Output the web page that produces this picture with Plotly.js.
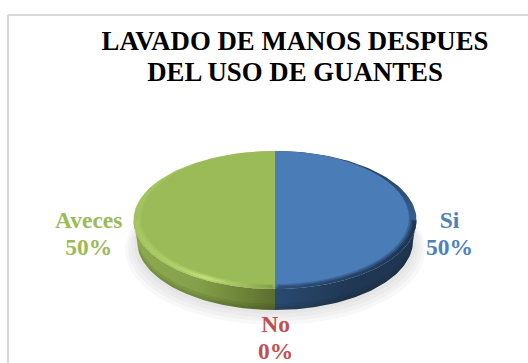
<!DOCTYPE html>
<html>
<head>
<meta charset="utf-8">
<script src="https://cdn.plot.ly/plotly-3.0.1.min.js"></script>
<style>html,body{margin:0;padding:0;background:#fff}#chart{width:528px;height:363px}</style>
</head>
<body>
<div id="chart"></div>
<script>
// Survey answers
const categories = ['Si', 'No', 'Aveces'];
const shares = [50, 0, 50];
const titleLines = ['LAVADO DE MANOS DESPUES', 'DEL USO DE GUANTES'];

// Colours per answer
const labelColors = ['#4f81bd', '#c0504d', '#9bbb59'];
const faceColors = ['#4a7db8', '#c0504d', '#9bbb59'];
const edgeColors = [
  [[0, '#4a7db8'], [0.38, '#4a7db8'], [0.5, '#35608f'], [1, '#1f3653']],
  [[0, '#c0504d'], [1, '#8c3a38']],
  [[0, '#9fbf5c'], [1, '#a3c45f']]
];
const rimStops = [
  [[0, '#2d4f7a'], [1, '#1f3653']],
  [[0, '#8c3a38'], [1, '#6e2c2a']],
  [[0, '#a6c761'], [0.35, '#b4d46c'], [0.5, '#c4e47c'], [0.8, '#9db95a'], [1, '#7e9845']]
];
const rimWeights = [[1, 1, 0.7, 0.35], [1, 1, 0.7, 0.35], [0.6, 1, 0.8, 0.4]];
const wallStops = [
  [[0, '#2a4a70'], [0.5, '#203855'], [1, '#1e3550']],
  [[0, '#8c3a38'], [1, '#6e2c2a']],
  [[0, '#8ea94f'], [0.45, '#84a04a'], [0.75, '#6f8639'], [1, '#5c6d30']]
];

// Label anchor points beside the disc
const labelAnchors = [[449, 235], [275, 339], [88, 235]];

// Disc geometry in pixels
const W = 528, H = 363;
const cx = 275, outer = {cy: 220, rx: 141.5, ry: 69};
const face = {cy: 217.5, rx: 134, ry: 66.5};
const base = {cy: 220, rx: 138, ry: 69};
const depth = 21;
const titleGap = 31, labelGap = 27;

// Outline points of an elliptical arc; angles run clockwise from 12 o'clock
function arc(e, a0, a1, dy) {
  const xs = [], ys = [], n = 90;
  for (let i = 0; i <= n; i++) {
    const a = a0 + (a1 - a0) * i / n;
    xs.push(cx + e.rx * Math.sin(a));
    ys.push(e.cy + (dy || 0) - e.ry * Math.cos(a));
  }
  return {xs, ys};
}

function mix(a, b, t) {
  const p = c => [1, 3, 5].map(i => parseInt(c.substr(i, 2), 16));
  const [x, y] = [p(a), p(b)];
  return 'rgb(' + x.map((v, i) => Math.round(v + (y[i] - v) * t)).join(',') + ')';
}

const total = shares.reduce((s, v) => s + v, 0);
const spans = [];
shares.reduce((start, v) => {
  const end = start + v / total * 2 * Math.PI;
  spans.push([start, end]);
  return end;
}, 0);

const traces = [];
const blank = {type: 'scatter', mode: 'lines', line: {width: 0}, fill: 'toself', hoverinfo: 'skip', showlegend: false};

// Soft ground shadow
[[10, 9], [7, 7], [4, 5], [1, 3]].forEach(([grow, drop]) => {
  const p = arc({cy: outer.cy, rx: base.rx + grow + 2, ry: outer.ry + grow * 0.6}, 0, 2 * Math.PI, depth + drop);
  traces.push({...blank, x: p.xs, y: p.ys, fillcolor: 'rgba(150,150,150,0.07)'});
});

// Side wall, only where a slice faces the viewer (lower half of the disc)
spans.forEach(([a0, a1], i) => {
  const lo = Math.max(a0, Math.PI / 2), hi = Math.min(a1, 3 * Math.PI / 2);
  if (hi <= lo) return;
  const top = arc(outer, lo, hi), bottom = arc(base, hi, lo, depth);
  traces.push({...blank, x: top.xs.concat(bottom.xs), y: top.ys.concat(bottom.ys),
    fillgradient: {type: 'horizontal', colorscale: wallStops[i]}});
  // darker strip along the lower edge of the wall
  [6, 3].forEach(h => {
    const up = arc(base, lo, hi, depth - h), dn = arc(base, hi, lo, depth);
    traces.push({...blank, x: up.xs.concat(dn.xs), y: up.ys.concat(dn.ys), fillcolor: 'rgba(20,30,10,0.09)'});
  });
});

// Outer edge of the top surface
spans.forEach(([a0, a1], i) => {
  if (a1 <= a0) return;
  const p = arc(outer, a0, a1);
  traces.push({...blank, x: [cx, ...p.xs, cx], y: [outer.cy, ...p.ys, outer.cy],
    fillgradient: {type: 'vertical', colorscale: edgeColors[i]}});
});

// Bevel on the front half: nested crescents fading into the face colour
[0, 0.25, 0.5, 0.75].forEach((t, k) => {
  const e = {cy: outer.cy + (face.cy - outer.cy) * t, rx: outer.rx + (face.rx - outer.rx) * t, ry: outer.ry + (face.ry - outer.ry) * t};
  spans.forEach(([a0, a1], i) => {
    const lo = Math.max(a0, Math.PI / 2), hi = Math.min(a1, 3 * Math.PI / 2);
    if (hi <= lo) return;
    const p = arc(e, lo, hi);
    traces.push({...blank, x: [...p.xs, p.xs[0]], y: [...p.ys, p.ys[0]],
      fillgradient: {type: 'horizontal', colorscale: rimStops[i].map(([pos, c]) => [pos, mix(faceColors[i], c, rimWeights[i][k])])}});
  });
});

// Flat top face, squashed into an ellipse once it has been drawn
traces.push({
  type: 'pie', labels: categories, values: shares, sort: false, direction: 'clockwise', rotation: 0,
  textinfo: 'none', hoverinfo: 'label+percent', showlegend: false,
  marker: {colors: faceColors, line: {width: 0}},
  domain: {x: [(cx - face.rx) / W, (cx + face.rx) / W], y: [1 - (face.cy + face.rx) / H, 1 - (face.cy - face.rx) / H]}
});

const serif = '"Liberation Serif", "Times New Roman", serif';

const annotations = categories.map((c, i) => ({
  xref: 'x', yref: 'y', x: labelAnchors[i][0], y: labelAnchors[i][1], showarrow: false,
  text: '<b>' + c + '<br>' + Math.round(shares[i] / total * 100) + '%</b>', align: 'center',
  font: {family: serif, size: 23.5, color: labelColors[i]}
}));

const layout = {
  width: W, height: H, margin: {l: 0, r: 0, t: 0, b: 0},
  paper_bgcolor: '#fff', plot_bgcolor: 'rgba(0,0,0,0)', showlegend: false,
  title: {text: '<b>' + titleLines.join('<br>') + '</b>', x: 295 / W, xanchor: 'center', y: 1 - 50 / H, yanchor: 'alphabetic',
    font: {family: serif, size: 26.8, color: '#000'}, pad: {t: 0}},
  xaxis: {range: [0, W], visible: false, fixedrange: true},
  yaxis: {range: [H, 0], visible: false, fixedrange: true},
  annotations,
  shapes: [
    {type: 'line', xref: 'paper', yref: 'paper', x0: 8 / W, x1: 8 / W, y0: 0, y1: 1 - 15 / H, line: {color: '#d9d9d9', width: 2}},
    {type: 'line', xref: 'paper', yref: 'paper', x0: 8 / W, x1: 1, y0: 1 - 15 / H, y1: 1 - 15 / H, line: {color: '#d9d9d9', width: 2}}
  ]
};

// Tighten the spacing between the lines of a multi-line text
function setLineGap(root, selector, gap) {
  root.querySelectorAll(selector).forEach(t => {
    t.querySelectorAll('tspan.line').forEach((line, n) => {
      if (n > 0) line.setAttribute('dy', gap + 'px');
    });
  });
}

Plotly.newPlot('chart', traces, layout, {displayModeBar: false, staticPlot: true}).then(gd => {
  const s = face.ry / face.rx;
  gd.querySelectorAll('.pielayer .trace').forEach(g => {
    g.setAttribute('transform', `translate(0,${face.cy}) scale(1,${s}) translate(0,${-face.cy})`);
  });
  setLineGap(gd, '.gtitle', titleGap);
  setLineGap(gd, '.annotation-text', labelGap);
});
</script>
</body>
</html>
